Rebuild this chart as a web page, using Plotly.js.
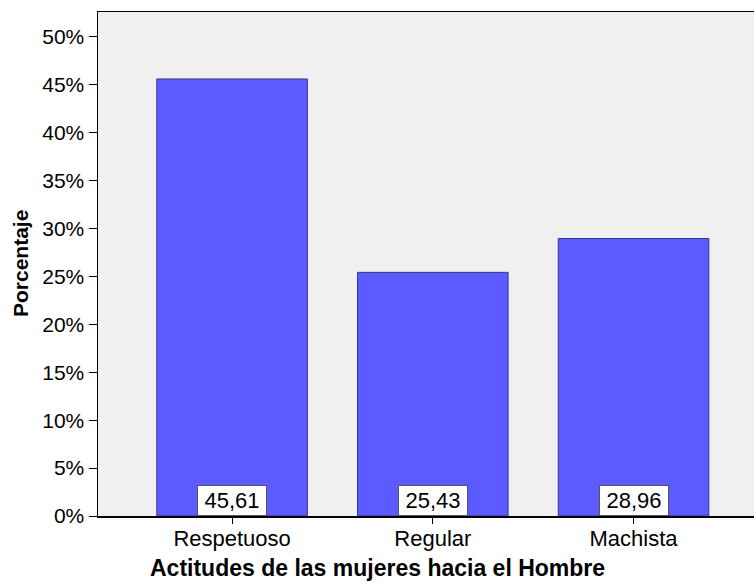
<!DOCTYPE html>
<html>
<head>
<meta charset="utf-8">
<script src="https://cdn.plot.ly/plotly-3.0.1.min.js"></script>
<style>html,body{margin:0;padding:0;background:#fff;}#chart{width:754px;height:585px;}</style>
</head>
<body>
<div id="chart"></div>
<script>
const categories = ["Respetuoso", "Regular", "Machista"];
const percentages = [45.61, 25.43, 28.96];
const yTickValues = [0, 5, 10, 15, 20, 25, 30, 35, 40, 45, 50];
const xTitle = 'Actitudes de las mujeres hacia el Hombre';
const yTitle = 'Porcentaje';

const labelText = percentages.map(v => v.toFixed(2).replace('.', ','));

const trace = {
  type: 'bar',
  x: categories,
  y: percentages,
  width: 0.75,
  marker: { color: '#5b5bff', line: { color: '#343490', width: 1 } },
  hoverinfo: 'none'
};

const FONT = 'Liberation Sans, Arial, sans-serif';
const plotW = 754 - 98, plotH = 585 - 12 - 69;

const annotations = categories.map((c, i) => ({
  x: c, y: 0, xref: 'x', yref: 'y',
  yanchor: 'bottom', xanchor: 'center',
  text: labelText[i],
  showarrow: false,
  bgcolor: '#ffffff',
  bordercolor: '#555555',
  borderwidth: 1,
  borderpad: 0,
  width: 68, height: 29,
  font: { family: FONT, size: 22, color: '#000' }
}));

annotations.push({
  xref: 'paper', yref: 'paper',
  x: (20 - 98) / plotW, y: 0.5,
  xanchor: 'center', yanchor: 'middle',
  textangle: -90, showarrow: false,
  text: '<b>' + yTitle + '</b>',
  font: { family: FONT, size: 21, color: '#000' }
});
annotations.push({
  xref: 'paper', yref: 'paper',
  x: (377 - 98) / plotW, y: -(568 - 516) / plotH,
  xanchor: 'center', yanchor: 'middle',
  showarrow: false,
  text: '<b>' + xTitle + '</b>',
  font: { family: FONT, size: 23, color: '#000' }
});

const layout = {
  width: 754, height: 585,
  margin: { l: 98, r: 0, t: 12, b: 69 },
  paper_bgcolor: '#ffffff',
  plot_bgcolor: '#f0f0f0',
  showlegend: false,
  font: { family: FONT, color: '#000' },
  xaxis: {
    type: 'category',
    range: [-0.668, 2.6],
    showline: true, linecolor: '#000', linewidth: 1.5, mirror: true,
    ticks: 'outside', ticklen: 6, tickcolor: '#000',
    ticklabelstandoff: -4,
    tickfont: { size: 22 },
    showgrid: false, zeroline: false
  },
  yaxis: {
    range: [0, 52.6],
    tickvals: yTickValues,
    ticktext: yTickValues.map(v => v + '%'),
    showline: true, linecolor: '#000', linewidth: 1.5,
    ticks: 'outside', ticklen: 8, tickcolor: '#000',
    tickfont: { size: 21 },
    showgrid: false, zeroline: false
  },
  annotations: annotations
};

Plotly.newPlot('chart', [trace], layout, { staticPlot: true, displayModeBar: false });
</script>
</body>
</html>
